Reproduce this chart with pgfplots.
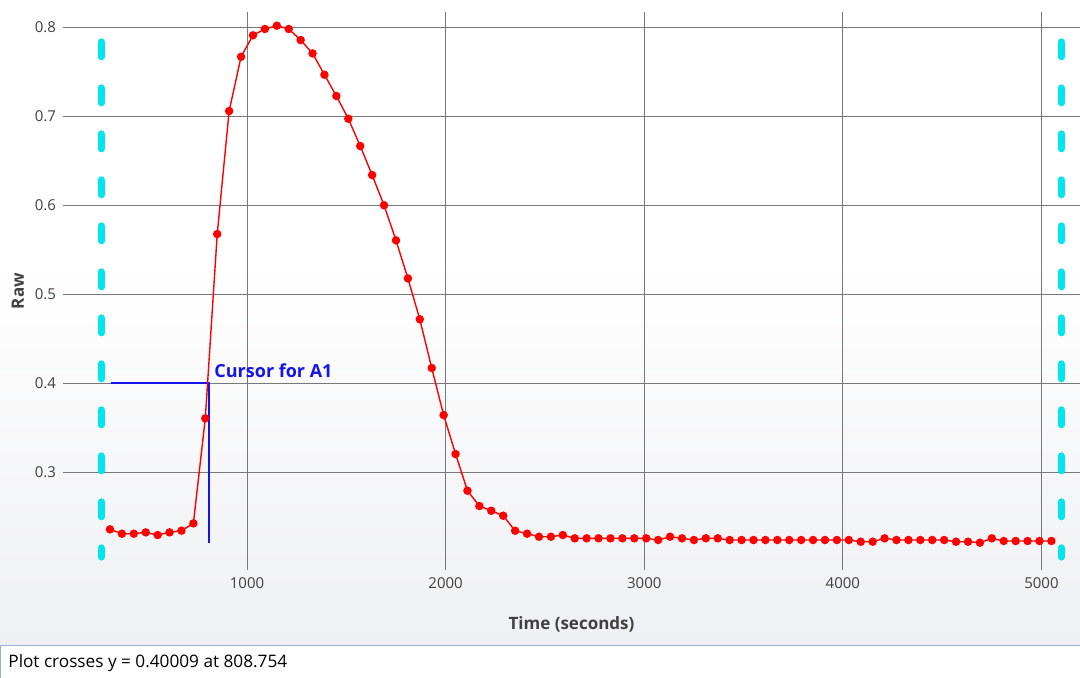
\documentclass[border=0pt]{standalone}
\usepackage{fontspec}
\setmainfont{Open Sans}
\usepackage{pgfplots}
\pgfplotsset{compat=1.18}
\definecolor{cyanline}{RGB}{0,229,238}
\definecolor{bggray}{RGB}{239,240,243}
\definecolor{gridc}{RGB}{120,120,120}
\definecolor{labc}{RGB}{64,64,64}
\definecolor{barborder}{RGB}{160,178,200}
\definecolor{curblue}{RGB}{20,20,235}
\begin{document}
\begin{tikzpicture}[x=0.5pt,y=0.5pt]
\useasboundingbox (0,0) rectangle (1080,677);
\fill[white] (0,0) rectangle (1080,677);
\shade[top color=white, bottom color=bggray] (0,32) rectangle (1080,420);
\fill[white] (0,420) rectangle (1080,677);
\begin{axis}[
  at={(31.5pt,53.5pt)}, anchor=south west,
  scale only axis, width=508.5pt, height=279pt,
  xmin=73.5, xmax=5194, ymin=0.1899, ymax=0.8169,
  axis line style={draw=none},
  tick style={draw=none},
  xtick={1000,2000,3000,4000,5000},
  xticklabels={1000,2000,3000,4000,5000},
  ytick={0.3,0.4,0.5,0.6,0.7,0.8},
  yticklabels={0.3,0.4,0.5,0.6,0.7,0.8},
  grid=major,
  major grid style={gridc, line width=0.5pt},
  ticklabel style={font=\fontsize{7.5}{9}\selectfont, text=labc},
  yticklabel style={xshift=0pt},
  xticklabel style={yshift=-0.5pt},
  xlabel={\textbf{Time (seconds)}},
  ylabel={\textbf{Raw}},
  label style={font=\fontsize{8.5}{10}\selectfont, text=labc},
  xlabel style={yshift=-7pt},
  ylabel style={yshift=-1.5pt},
  clip=false,
]
\addplot[cyanline, line width=3.5pt, line cap=round, dash pattern=on 7.5pt off 15.5pt] coordinates {(265,0.7834) (265,0.2045)};
\addplot[cyanline, line width=3.5pt, line cap=round, dash pattern=on 7.5pt off 15.5pt] coordinates {(5099,0.7834) (5099,0.2045)};
\addplot[curblue, line width=0.6pt] coordinates {(315,0.40009) (808.754,0.40009) (808.754,0.2202)};
\addplot[red, line width=0.7pt, mark=*, mark size=1.75pt, mark options={fill=red, draw=red}] table {
t v
310 0.2356
370 0.2307
430 0.2307
490 0.2322
550 0.2292
610 0.2322
670 0.2341
730 0.2423
790 0.3603
850 0.5674
910 0.7056
970 0.7666
1030 0.7907
1090 0.7978
1150 0.8015
1210 0.7978
1270 0.7854
1330 0.7704
1390 0.7464
1450 0.7225
1510 0.6970
1570 0.6663
1630 0.6337
1690 0.5997
1750 0.5603
1810 0.5176
1870 0.4716
1930 0.4169
1990 0.3640
2050 0.3202
2110 0.2790
2170 0.2618
2230 0.2565
2290 0.2509
2350 0.2340
2410 0.2307
2470 0.2273
2530 0.2273
2590 0.2292
2650 0.2255
2710 0.2255
2770 0.2255
2830 0.2255
2890 0.2255
2950 0.2255
3010 0.2255
3070 0.2236
3130 0.2273
3190 0.2255
3250 0.2236
3310 0.2255
3370 0.2255
3430 0.2236
3490 0.2236
3550 0.2236
3610 0.2236
3670 0.2236
3730 0.2236
3790 0.2236
3850 0.2236
3910 0.2236
3970 0.2236
4030 0.2236
4090 0.2217
4150 0.2217
4210 0.2255
4270 0.2236
4330 0.2236
4390 0.2236
4450 0.2236
4510 0.2236
4570 0.2217
4630 0.2217
4690 0.2206
4750 0.2255
4810 0.2225
4870 0.2225
4930 0.2225
4990 0.2225
5050 0.2225
};
\node[anchor=west, text=curblue, font=\fontsize{9}{10}\selectfont\bfseries, inner sep=0pt] at (axis cs:834,0.4135) {Cursor for A1};
\end{axis}
\draw[barborder, fill=white, line width=0.5pt] (0.5,-2) rectangle (1085,32);
\node[anchor=west, inner sep=0pt, font=\fontsize{8.6}{10}\selectfont, text=black] at (8,14) {Plot crosses y = 0.40009 at 808.754};
\end{tikzpicture}
\end{document}
